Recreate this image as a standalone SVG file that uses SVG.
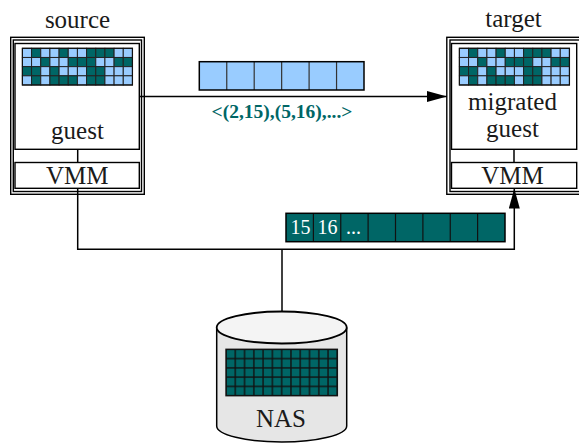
<svg xmlns="http://www.w3.org/2000/svg" xmlns:xlink="http://www.w3.org/1999/xlink" width="579" height="444" viewBox="0 0 579 444">
<style>
.t{font-family:"Liberation Serif","Times New Roman",serif;font-size:25px;fill:#1a1a1a;text-anchor:middle}
.box{fill:#fff;stroke:#000;stroke-width:1.4}
.frame{fill:none;stroke:#000;stroke-width:1.4}
.L{fill:#99ccff;stroke:#222;stroke-width:1}
.D{fill:#006666;stroke:#222;stroke-width:1}
.conn{fill:none;stroke:#000;stroke-width:1.5}
.lbl{font-family:"Liberation Serif","Times New Roman",serif;font-weight:bold;font-size:19.5px;fill:#006666;text-anchor:middle}
.wt{font-family:"Liberation Serif","Times New Roman",serif;font-size:20px;fill:#fff}
</style>
<defs>
<marker id="arr" markerUnits="userSpaceOnUse" markerWidth="21" markerHeight="12" refX="20" refY="5.5" orient="auto">
<path d="M0,0 L20,5.5 L0,11 z" fill="#000"/>
</marker>
<pattern id="nasGrid" x="226" y="349.3" width="9.28" height="9.28" patternUnits="userSpaceOnUse">
<rect width="9.28" height="9.28" fill="#006666" stroke="#111" stroke-width="1.4"/>
</pattern>
<g id="pageGrid">
<rect class="L" x="0" y="0" width="9.17" height="9.17"/><rect class="D" x="9.17" y="0" width="9.17" height="9.17"/><rect class="L" x="18.34" y="0" width="9.17" height="9.17"/><rect class="L" x="27.51" y="0" width="9.17" height="9.17"/><rect class="D" x="36.68" y="0" width="9.17" height="9.17"/><rect class="L" x="45.85" y="0" width="9.17" height="9.17"/><rect class="L" x="55.02" y="0" width="9.17" height="9.17"/><rect class="D" x="64.19" y="0" width="9.17" height="9.17"/><rect class="D" x="73.36" y="0" width="9.17" height="9.17"/><rect class="D" x="82.53" y="0" width="9.17" height="9.17"/><rect class="L" x="91.7" y="0" width="9.17" height="9.17"/><rect class="L" x="100.87" y="0" width="9.17" height="9.17"/>
<rect class="L" x="0" y="9.17" width="9.17" height="9.17"/><rect class="L" x="9.17" y="9.17" width="9.17" height="9.17"/><rect class="D" x="18.34" y="9.17" width="9.17" height="9.17"/><rect class="L" x="27.51" y="9.17" width="9.17" height="9.17"/><rect class="L" x="36.68" y="9.17" width="9.17" height="9.17"/><rect class="D" x="45.85" y="9.17" width="9.17" height="9.17"/><rect class="D" x="55.02" y="9.17" width="9.17" height="9.17"/><rect class="D" x="64.19" y="9.17" width="9.17" height="9.17"/><rect class="L" x="73.36" y="9.17" width="9.17" height="9.17"/><rect class="L" x="82.53" y="9.17" width="9.17" height="9.17"/><rect class="D" x="91.7" y="9.17" width="9.17" height="9.17"/><rect class="D" x="100.87" y="9.17" width="9.17" height="9.17"/>
<rect class="D" x="0" y="18.34" width="9.17" height="9.17"/><rect class="D" x="9.17" y="18.34" width="9.17" height="9.17"/><rect class="L" x="18.34" y="18.34" width="9.17" height="9.17"/><rect class="D" x="27.51" y="18.34" width="9.17" height="9.17"/><rect class="L" x="36.68" y="18.34" width="9.17" height="9.17"/><rect class="L" x="45.85" y="18.34" width="9.17" height="9.17"/><rect class="L" x="55.02" y="18.34" width="9.17" height="9.17"/><rect class="D" x="64.19" y="18.34" width="9.17" height="9.17"/><rect class="D" x="73.36" y="18.34" width="9.17" height="9.17"/><rect class="L" x="82.53" y="18.34" width="9.17" height="9.17"/><rect class="L" x="91.7" y="18.34" width="9.17" height="9.17"/><rect class="L" x="100.87" y="18.34" width="9.17" height="9.17"/>
<rect class="L" x="0" y="27.51" width="9.17" height="9.17"/><rect class="D" x="9.17" y="27.51" width="9.17" height="9.17"/><rect class="L" x="18.34" y="27.51" width="9.17" height="9.17"/><rect class="D" x="27.51" y="27.51" width="9.17" height="9.17"/><rect class="D" x="36.68" y="27.51" width="9.17" height="9.17"/><rect class="D" x="45.85" y="27.51" width="9.17" height="9.17"/><rect class="L" x="55.02" y="27.51" width="9.17" height="9.17"/><rect class="D" x="64.19" y="27.51" width="9.17" height="9.17"/><rect class="D" x="73.36" y="27.51" width="9.17" height="9.17"/><rect class="L" x="82.53" y="27.51" width="9.17" height="9.17"/><rect class="L" x="91.7" y="27.51" width="9.17" height="9.17"/><rect class="L" x="100.87" y="27.51" width="9.17" height="9.17"/>
<rect x="0" y="0" width="110.04" height="36.68" fill="none" stroke="#111" stroke-width="1.2"/>
</g>
</defs>

<g id="connectors">
<line class="conn" x1="77.7" y1="149.3" x2="77.7" y2="162.5"/>
<line class="conn" x1="514" y1="149.3" x2="514" y2="162.5"/>
<line class="conn" x1="139.3" y1="96.5" x2="447" y2="96.5" marker-end="url(#arr)"/>
<polyline class="conn" points="77.7,188.3 77.7,249.3 514.3,249.3 514.3,188.5" marker-end="url(#arr)"/>
<line class="conn" x1="282" y1="249.3" x2="282" y2="312"/>
</g>

<g id="source">
<text class="t" x="77.5" y="28">source</text>
<rect class="frame" x="10.7" y="37.3" width="133.6" height="157"/>
<rect class="frame" x="13.3" y="40" width="128.2" height="151.5"/>
<rect class="box" x="15" y="43.5" width="124.3" height="105.8"/>
<use xlink:href="#pageGrid" x="22.4" y="48.3"/>
<text class="t" x="77.5" y="139.3">guest</text>
<rect class="box" x="15" y="162.5" width="124.3" height="25.8"/>
<text class="t" x="77.3" y="184.3">VMM</text>
</g>

<g id="target">
<text class="t" x="513.5" y="27">target</text>
<rect class="frame" x="446.8" y="37.3" width="136" height="157"/>
<rect class="frame" x="450" y="40" width="131" height="151.5"/>
<rect class="box" x="451.5" y="43.5" width="125.2" height="105.8"/>
<use xlink:href="#pageGrid" x="459.4" y="48.3"/>
<text class="t" x="512.5" y="110">migrated</text>
<text class="t" x="512.5" y="137.3">guest</text>
<rect class="box" x="451.5" y="162.5" width="125.2" height="25.8"/>
<text class="t" x="512.5" y="184.3">VMM</text>
</g>

<g id="dirtyList">
<rect x="199.3" y="61.7" width="164.7" height="28.3" fill="#99ccff"/>
<g stroke="#333" stroke-width="1.2">
<line x1="226.75" y1="61.7" x2="226.75" y2="90"/><line x1="254.2" y1="61.7" x2="254.2" y2="90"/><line x1="281.65" y1="61.7" x2="281.65" y2="90"/><line x1="309.1" y1="61.7" x2="309.1" y2="90"/><line x1="336.55" y1="61.7" x2="336.55" y2="90"/>
</g>
<rect x="199.3" y="61.7" width="164.7" height="28.3" fill="none" stroke="#000" stroke-width="1.5"/>
<text class="lbl" x="282" y="118.3">&lt;(2,15),(5,16),...&gt;</text>
</g>

<g id="pageStream">
<rect x="286" y="213.3" width="219" height="28.4" fill="#006666"/>
<g stroke="#111" stroke-width="1.2">
<line x1="313.4" y1="213.3" x2="313.4" y2="241.7"/><line x1="340.75" y1="213.3" x2="340.75" y2="241.7"/><line x1="368.1" y1="213.3" x2="368.1" y2="241.7"/><line x1="395.5" y1="213.3" x2="395.5" y2="241.7"/><line x1="422.9" y1="213.3" x2="422.9" y2="241.7"/><line x1="450.25" y1="213.3" x2="450.25" y2="241.7"/><line x1="477.6" y1="213.3" x2="477.6" y2="241.7"/>
</g>
<rect x="286" y="213.3" width="219" height="28.4" fill="none" stroke="#000" stroke-width="1.5"/>
<text class="wt" x="290.5" y="234.3">15</text>
<text class="wt" x="317.5" y="234.3">16</text>
<text class="wt" x="346" y="234.3">...</text>
</g>

<g id="nas">
<path d="M216.7,327.5 L216.7,426 A65,16 0 0 0 346.7,426 L346.7,327.5" fill="#e6e6e6" stroke="#000" stroke-width="1.5"/>
<ellipse cx="281.7" cy="327.5" rx="65" ry="16" fill="#f4f4f4" stroke="#000" stroke-width="1.8"/>
<rect x="226" y="349.3" width="111.36" height="46.4" fill="url(#nasGrid)" stroke="#111" stroke-width="1.4"/>
<text class="t" x="281" y="426.7">NAS</text>
</g>
</svg>
